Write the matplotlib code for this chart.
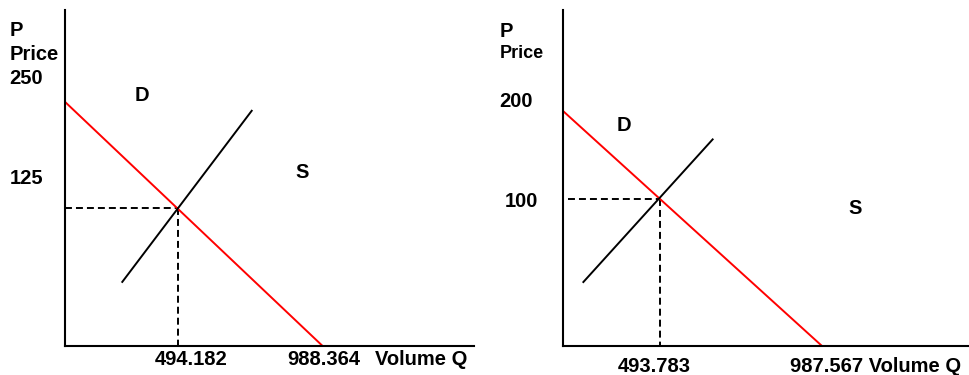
import matplotlib
matplotlib.use("Agg")
import matplotlib.pyplot as plt

# ---- market 1 ----
m1_demand_q = [0.0, 988.364]
m1_demand_p = [250.0, 0.0]
m1_supply_q = [303.7, 749.4]
m1_supply_p = [57.4, 214.7]
m1_q_eq = 494.182
m1_p_eq = 125.0
m1_price_labels = ["250", "125"]

# ---- market 2 ----
m2_demand_q = [0.0, 987.567]
m2_demand_p = [200.0, 0.0]
m2_supply_q = [257.8, 656.6]
m2_supply_p = [42.9, 141.1]
m2_q_eq = 493.783
m2_p_eq = 100.0
m2_guide_start = 212.0
m2_price_labels = ["200", "100"]

W, H = 970, 375
plt.rcParams["font.family"] = ["Liberation Sans", "DejaVu Sans"]
plt.rcParams["lines.scale_dashes"] = False

fig = plt.figure(figsize=(W / 100, H / 100), dpi=100)
fig.patch.set_facecolor("white")


def panel(left, right, top, bottom, xlim, ylim):
    ax = fig.add_axes([left / W, 1 - bottom / H, (right - left) / W, (bottom - top) / H])
    ax.set_xlim(*xlim)
    ax.set_ylim(*ylim)
    for side in ("top", "right"):
        ax.spines[side].set_visible(False)
    for side in ("left", "bottom"):
        ax.spines[side].set_linewidth(1.5)
        ax.spines[side].set_color("black")
    ax.set_xticks([])
    ax.set_yticks([])
    ax.patch.set_alpha(0)
    return ax


def label(x, y, s, size=14.5):
    fig.text(x / W, 1 - y / H, s, ha="left", va="baseline",
             fontsize=size, fontweight="bold", color="black")


DASH = dict(color="black", lw=1.4, dashes=(5, 2.9))

# market 1 panel
ax1 = panel(65, 474, 10, 345.7, (110.2, 1506.1), (0, 305.8))
ax1.plot([ax1.get_xlim()[0], m1_q_eq], [m1_p_eq, m1_p_eq], **DASH)
ax1.plot([m1_q_eq, m1_q_eq], [m1_p_eq, 0], **DASH)
ax1.plot(m1_demand_q, m1_demand_p, color="#ff0000", lw=1.4, solid_capstyle="butt")
ax1.plot(m1_supply_q, m1_supply_p, color="black", lw=1.4, solid_capstyle="butt")

label(9.3, 36, "P")
label(9.3, 60, "Price")
label(9.3, 84, m1_price_labels[0])
label(9.3, 184, m1_price_labels[1])
label(135, 100.7, "D")
label(295.7, 178.3, "S")
label(155, 365, f"{m1_q_eq:.3f}")
label(287, 365, f"{m1_demand_q[1]:.3f}")
label(375, 365, "Volume Q")

# market 2 panel
ax2 = panel(562.7, 970, 10, 345.7, (196.7, 1440.5), (0, 228.8))
ax2.plot([m2_guide_start, m2_q_eq], [m2_p_eq, m2_p_eq], **DASH)
ax2.plot([m2_q_eq, m2_q_eq], [m2_p_eq, 0], **DASH)
ax2.plot(m2_demand_q, m2_demand_p, color="#ff0000", lw=1.4, solid_capstyle="butt")
ax2.plot(m2_supply_q, m2_supply_p, color="black", lw=1.4, solid_capstyle="butt")

label(499.3, 36.7, "P")
label(499.3, 58.3, "Price", size=13)
label(499.3, 106.7, m2_price_labels[0])
label(504.3, 207.3, m2_price_labels[1])
label(616.7, 130.7, "D")
label(848.3, 214, "S")
label(617.7, 371.7, f"{m2_q_eq:.3f}")
label(790, 371.7, f"{m2_demand_q[1]:.3f} Volume Q")

fig.savefig("out.png", dpi=100, facecolor="white")
